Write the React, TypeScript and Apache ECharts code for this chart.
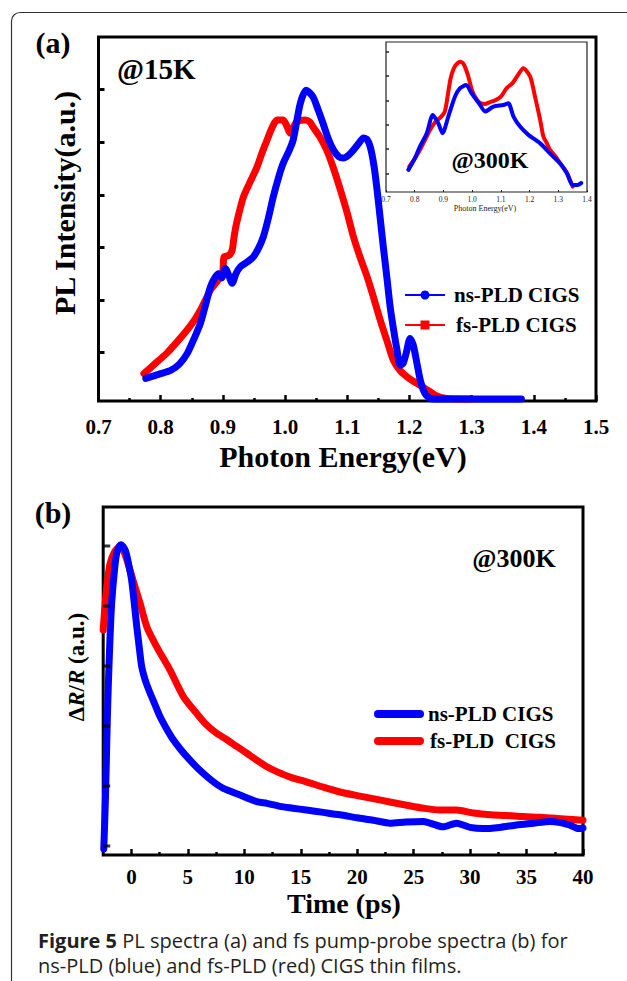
import React, { useEffect, useRef } from "react";
import * as echarts from "echarts";

// ---------- Panel (a): PL spectra at 15 K ----------
const a15_ns_E = [0.776, 0.8, 0.816, 0.83, 0.843, 0.855, 0.864, 0.872, 0.88, 0.887, 0.893, 0.898, 0.904, 0.91, 0.915, 0.921, 0.928, 0.94, 0.949, 0.958, 0.965, 0.973, 0.981, 0.99, 0.997, 1.005, 1.013, 1.0245, 1.034, 1.045, 1.053, 1.061, 1.07, 1.078, 1.087, 1.094, 1.102, 1.11, 1.118, 1.126, 1.132, 1.137, 1.143, 1.148, 1.153, 1.158, 1.164, 1.169, 1.175, 1.18, 1.185, 1.19, 1.195, 1.201, 1.206, 1.212, 1.218, 1.225, 1.232, 1.24, 1.3, 1.38];
const a15_ns_I = [0.51, 0.6, 0.66, 0.78, 0.99, 1.3, 1.56, 1.9, 2.25, 2.42, 2.5, 2.42, 2.6, 2.45, 2.32, 2.5, 2.63, 2.73, 2.82, 3.0, 3.2, 3.55, 3.96, 4.35, 4.6, 4.8, 5.04, 5.74, 5.99, 5.86, 5.62, 5.36, 5.05, 4.85, 4.72, 4.7, 4.75, 4.85, 4.97, 5.08, 5.05, 4.91, 4.55, 4.09, 3.55, 3.01, 2.4, 1.87, 1.4, 1.05, 0.76, 0.8, 1.0, 1.27, 1.15, 0.8, 0.45, 0.22, 0.14, 0.12, 0.12, 0.12];
const a15_fs_E = [0.773, 0.79, 0.81, 0.826, 0.8425, 0.855, 0.864, 0.872, 0.88, 0.889, 0.896, 0.9, 0.902, 0.91, 0.915, 0.918, 0.922, 0.933, 0.944, 0.955, 0.963, 0.971, 0.98, 0.987, 0.997, 1.003, 1.008, 1.013, 1.019, 1.0325, 1.04, 1.045, 1.056, 1.067, 1.078, 1.089, 1.1, 1.11, 1.121, 1.132, 1.143, 1.153, 1.164, 1.174, 1.185, 1.196, 1.207, 1.217, 1.23, 1.245, 1.26, 1.3];
const a15_fs_I = [0.6, 0.78, 0.99, 1.2, 1.43, 1.63, 1.81, 2.0, 2.19, 2.33, 2.44, 2.55, 2.82, 2.85, 2.95, 3.2, 3.46, 3.96, 4.25, 4.53, 4.8, 5.04, 5.3, 5.42, 5.42, 5.3, 5.17, 5.28, 5.39, 5.42, 5.38, 5.29, 5.1, 4.85, 4.5, 4.09, 3.65, 3.2, 2.8, 2.44, 2.02, 1.62, 1.22, 0.86, 0.66, 0.54, 0.45, 0.38, 0.28, 0.17, 0.13, 0.12];

// ---------- Inset: PL spectra at 300 K ----------
const a300_ns_E = [0.778, 0.8, 0.818, 0.842, 0.863, 0.882, 0.897, 0.917, 0.94, 0.958, 0.979, 0.998, 1.028, 1.045, 1.074, 1.109, 1.126, 1.144, 1.167, 1.196, 1.237, 1.271, 1.306, 1.33, 1.35, 1.367, 1.38];
const a300_ns_I = [1.14, 1.6, 2.1, 2.65, 3.4, 3.06, 2.65, 3.33, 4.15, 4.5, 4.63, 4.29, 3.81, 3.54, 3.74, 3.81, 3.88, 3.33, 2.92, 2.58, 2.23, 1.82, 1.41, 1.0, 0.52, 0.52, 0.6];
const a300_fs_E = [0.781, 0.8, 0.818, 0.835, 0.853, 0.871, 0.89, 0.905, 0.915, 0.925, 0.94, 0.958, 0.97, 0.985, 1.0, 1.015, 1.028, 1.045, 1.06, 1.08, 1.1, 1.12, 1.14, 1.16, 1.178, 1.202, 1.219, 1.237, 1.248, 1.26, 1.271, 1.29, 1.306, 1.33, 1.35];
const a300_fs_I = [1.27, 1.6, 1.96, 2.35, 2.78, 3.1, 3.3, 3.55, 4.2, 4.9, 5.4, 5.59, 5.5, 5.05, 4.4, 4.05, 3.89, 3.85, 3.92, 4.0, 4.15, 4.5, 4.7, 5.05, 5.32, 4.98, 4.15, 3.19, 2.51, 2.24, 1.96, 1.7, 1.42, 1.01, 0.45];

// ---------- Panel (b): pump-probe ----------
const b_ns_t = [-2.45, -2.3, -2.15, -2.05, -1.9, -1.75, -1.5, -1.3, -0.95, -0.6, -0.42, -0.2, 0.02, 0.25, 0.47, 0.7, 0.91, 1.25, 1.65, 2.1, 2.53, 3.1, 3.71, 4.4, 5.19, 5.9, 6.67, 7.4, 8.14, 9.62, 11.1, 12.0, 13.16, 14.3, 15.5, 17.0, 18.47, 20.0, 21.42, 22.9, 24.3, 25.85, 27.6, 28.8, 30.0, 31.17, 32.6, 34.1, 35.6, 37.07, 38.0, 38.8, 39.6, 40];
const b_ns_R = [-0.05, 0.8, 2.0, 2.66, 3.45, 4.05, 4.6, 4.88, 5.02, 4.95, 4.85, 4.65, 4.43, 4.05, 3.66, 3.3, 2.99, 2.75, 2.55, 2.35, 2.16, 1.96, 1.77, 1.6, 1.43, 1.29, 1.16, 1.05, 0.96, 0.85, 0.74, 0.71, 0.66, 0.63, 0.6, 0.56, 0.52, 0.47, 0.43, 0.38, 0.4, 0.41, 0.32, 0.38, 0.31, 0.29, 0.31, 0.35, 0.38, 0.41, 0.39, 0.35, 0.29, 0.3];
const b_fs_t = [-2.5, -2.3, -2.1, -1.9, -1.5, -0.95, -0.55, -0.13, 0.3, 0.76, 1.35, 2.24, 3.42, 4.6, 5.78, 6.6, 7.55, 8.4, 9.33, 10.2, 11.1, 12.0, 12.87, 14.2, 15.5, 17.0, 18.47, 20.0, 21.4, 23.0, 24.4, 25.9, 27.3, 28.8, 30.3, 31.8, 33.2, 34.7, 36.2, 37.7, 39.0, 40.0];
const b_fs_R = [3.6, 4.1, 4.45, 4.7, 4.9, 5.0, 4.85, 4.6, 4.33, 4.05, 3.66, 3.32, 2.93, 2.49, 2.21, 2.03, 1.88, 1.78, 1.66, 1.55, 1.43, 1.32, 1.24, 1.14, 1.07, 0.98, 0.9, 0.84, 0.79, 0.73, 0.68, 0.63, 0.6, 0.6, 0.55, 0.52, 0.51, 0.49, 0.48, 0.46, 0.44, 0.43];

// tick values
const aYTicks = [1, 2, 3, 4, 5, 6];
const insetYTicks = [1, 2, 3, 4, 5, 6];
const bYTicks = [0, 1, 2, 3, 4, 5];
const bXMajor = [0, 5, 10, 15, 20, 25, 30, 35, 40];
const bXMinor = [2.5, 7.5, 12.5, 17.5, 22.5, 27.5, 32.5, 37.5];
const bTMin = -2.5;
const bTMax = 40;

const BLUE = "#0000ff";
const RED = "#ff0000";
const SERIF = "'Liberation Serif', 'Times New Roman', serif";
const SANS = "'Open Sans', 'Noto Sans', sans-serif";

const zip = (xs: number[], ys: number[]) => xs.map((x, i) => [x, ys[i]]);

export default function App() {
  const ref = useRef<HTMLDivElement>(null);
  useEffect(() => {
    if (!ref.current) return;
    const chart = echarts.init(ref.current, undefined, { renderer: "svg" });
    const tickLbl = { fontSize: 21, fontWeight: "bold" as const, fontFamily: SERIF, color: "#000" };
    const noLine = { show: false, onZero: false };
    const lineS = (name: string, xi: number, yi: number, data: number[][], color: string, w: number, z: number) => ({
      name,
      type: "line",
      xAxisIndex: xi,
      yAxisIndex: yi,
      data,
      symbol: "none",
      showSymbol: false,
      smooth: 0.25,
      z,
      lineStyle: { color, width: w, cap: "round", join: "round" },
    });
    const txt = (text: string, x: number, y: number, size: number, opts: any = {}) => ({
      type: "text",
      x,
      y,
      rotation: opts.rotation || 0,
      z: 100,
      style: {
        text,
        font: `${opts.weight || "bold"} ${size}px ${opts.family || SERIF}`,
        fill: opts.fill || "#000",
        align: opts.align || "center",
        verticalAlign: "middle",
      },
    });
    const helper = (gridIndex: number) => ({ type: "value", gridIndex, min: 1, max: 2, show: false });
    const B = { left: 103.2, top: 507, width: 479.8, height: 348 };
    const option: any = {
      animation: false,
      backgroundColor: "#fff",
      grid: [
        { left: 98.5, top: 37, width: 497.5, height: 364, show: true, borderWidth: 3, borderColor: "#000", backgroundColor: "transparent", z: 0 },
        { left: 386, top: 42, width: 201, height: 150, show: true, borderWidth: 1.2, borderColor: "#222", backgroundColor: "#fff", z: 5 },
        { ...B, show: true, borderWidth: 3, borderColor: "#000", backgroundColor: "transparent", z: 0 },
        { ...B, show: false },
        { ...B, show: false },
      ],
      xAxis: [
        {
          type: "value", gridIndex: 0, position: "bottom", min: 0.7, max: 1.5, interval: 0.1,
          axisLine: noLine, splitLine: { show: false },
          axisTick: { inside: true, length: 6, lineStyle: { width: 2.5, color: "#000" } },
          minorTick: { show: true, splitNumber: 2, length: 3, lineStyle: { width: 2.5, color: "#000" } },
          axisLabel: { ...tickLbl, margin: 15, formatter: (v: number) => v.toFixed(1) },
        },
        {
          type: "value", gridIndex: 1, position: "bottom", min: 0.7, max: 1.4, interval: 0.1, z: 6,
          axisLine: noLine, splitLine: { show: false },
          axisTick: { inside: true, length: 2, lineStyle: { width: 1, color: "#222" } },
          axisLabel: { fontSize: 7.5, fontFamily: SERIF, color: "#222", margin: 3, formatter: (v: number) => v.toFixed(1) },
        },
        // panel (b) data axis (hidden)
        { type: "value", gridIndex: 2, min: bTMin, max: bTMax, show: false },
        // panel (b) major ticks + labels
        {
          type: "value", gridIndex: 3, position: "bottom", min: bTMin, max: bTMax,
          axisLine: noLine, splitLine: { show: false },
          axisTick: { inside: true, length: 6, customValues: bXMajor, lineStyle: { width: 2.5, color: "#000" } },
          axisLabel: { ...tickLbl, margin: 11, customValues: bXMajor },
        },
        // panel (b) minor ticks
        {
          type: "value", gridIndex: 4, position: "bottom", min: bTMin, max: bTMax,
          axisLine: noLine, splitLine: { show: false },
          axisTick: { inside: true, length: 3, customValues: bXMinor, lineStyle: { width: 2.5, color: "#000" } },
          axisLabel: { show: false },
        },
      ],
      yAxis: [
        {
          type: "value", gridIndex: 0, position: "left", min: 0.08, max: 7,
          axisLine: noLine, splitLine: { show: false },
          axisTick: { inside: true, length: 6, customValues: aYTicks, lineStyle: { width: 3, color: "#000" } },
          axisLabel: { show: false, customValues: aYTicks },
        },
        {
          type: "value", gridIndex: 1, position: "left", min: 0.23, max: 6.4, z: 6,
          axisLine: noLine, splitLine: { show: false },
          axisTick: { inside: true, length: 3, customValues: insetYTicks, lineStyle: { width: 1.5, color: "#222" } },
          axisLabel: { show: false, customValues: insetYTicks },
        },
        // panel (b) data axis (hidden)
        { type: "value", gridIndex: 2, min: -0.15, max: 5.65, show: false },
        helper(3),
        helper(4),
      ],
      series: [
        lineS("fs-PLD CIGS (15K)", 0, 0, zip(a15_fs_E, a15_fs_I), RED, 7, 2),
        lineS("ns-PLD CIGS (15K)", 0, 0, zip(a15_ns_E, a15_ns_I), BLUE, 7, 3),
        lineS("fs-PLD CIGS (300K)", 1, 1, zip(a300_fs_E, a300_fs_I), RED, 4, 7),
        lineS("ns-PLD CIGS (300K)", 1, 1, zip(a300_ns_E, a300_ns_I), BLUE, 4, 8),
        lineS("fs-PLD CIGS", 2, 2, zip(b_fs_t, b_fs_R), RED, 7, 2),
        lineS("ns-PLD CIGS", 2, 2, zip(b_ns_t, b_ns_R), BLUE, 7, 3),
        // panel (b) left-axis inward ticks, placed through the y scale
        {
          name: "b-y-ticks",
          type: "scatter",
          xAxisIndex: 2,
          yAxisIndex: 2,
          data: bYTicks.map((v) => [bTMin, v]),
          symbol: "rect",
          symbolSize: [7, 3],
          symbolOffset: [3.5, 0],
          itemStyle: { color: "#000" },
          silent: true,
          clip: false,
          z: 10,
        },
      ],
      graphic: [
        // outer figure frame (top + left, rounded corner)
        { type: "line", shape: { x1: 20, y1: 12.5, x2: 627, y2: 12.5 }, style: { stroke: "#333", lineWidth: 1.2 } },
        { type: "line", shape: { x1: 11.5, y1: 21, x2: 11.5, y2: 981 }, style: { stroke: "#333", lineWidth: 1.2 } },
        { type: "arc", shape: { cx: 20, cy: 21, r: 8.5, startAngle: Math.PI, endAngle: Math.PI * 1.5 }, style: { stroke: "#333", lineWidth: 1.2, fill: "none" } },
        // panel labels
        txt("(a)", 53, 42, 30),
        txt("(b)", 53, 512, 30),
        txt("@15K", 117, 69, 29, { align: "left" }),
        txt("@300K", 490, 160, 24),
        txt("@300K", 514, 558, 26),
        // axis titles
        txt("Photon Energy(eV)", 343, 456, 30),
        txt("PL Intensity(a.u.)", 64, 203, 30, { rotation: Math.PI / 2 }),
        txt("Photon Energy(eV)", 485, 208, 8, { weight: "normal", fill: "#222" }),
        txt("Time (ps)", 344, 903, 28),
        {
          type: "text", x: 76, y: 667, rotation: Math.PI / 2, z: 100,
          style: {
            text: "{n|Δ}{i|R}{n|/}{i|R}{n| (a.u.)}",
            align: "center", verticalAlign: "middle",
            rich: {
              n: { font: `bold 23px ${SERIF}`, fill: "#000" },
              i: { font: `italic bold 23px ${SERIF}`, fill: "#000" },
            },
          },
        },
        // legend (a)
        { type: "line", z: 100, shape: { x1: 405, y1: 295, x2: 445, y2: 295 }, style: { stroke: BLUE, lineWidth: 2 } },
        { type: "circle", z: 100, shape: { cx: 425, cy: 295, r: 4.5 }, style: { fill: BLUE } },
        txt("ns-PLD CIGS", 454, 295, 21, { align: "left" }),
        { type: "line", z: 100, shape: { x1: 405, y1: 325, x2: 445, y2: 325 }, style: { stroke: RED, lineWidth: 2 } },
        { type: "rect", z: 100, shape: { x: 420.5, y: 320.5, width: 9, height: 9 }, style: { fill: RED } },
        txt("fs-PLD CIGS", 456, 325, 21, { align: "left" }),
        // legend (b)
        { type: "line", z: 100, shape: { x1: 378, y1: 714, x2: 420, y2: 714 }, style: { stroke: BLUE, lineWidth: 8, lineCap: "round" } },
        txt("ns-PLD CIGS", 428, 714, 21, { align: "left" }),
        { type: "line", z: 100, shape: { x1: 378, y1: 741, x2: 420, y2: 741 }, style: { stroke: RED, lineWidth: 8, lineCap: "round" } },
        txt("fs-PLD  CIGS", 430, 741, 21, { align: "left" }),
        // caption
        {
          type: "text", x: 38, y: 940, z: 100,
          style: {
            text: "{b|Figure 5} PL spectra (a) and fs pump-probe spectra (b) for",
            font: `20px ${SANS}`, fill: "#231f20",
            verticalAlign: "middle",
            rich: { b: { font: `bold 20px ${SANS}`, fill: "#231f20" } },
          },
        },
        txt("ns-PLD (blue) and fs-PLD (red) CIGS thin films.", 38, 965, 20, { align: "left", weight: "normal", family: SANS, fill: "#231f20" }),
      ],
    };
    chart.setOption(option);
    return () => chart.dispose();
  }, []);
  return <div ref={ref} style={{ position: "absolute", left: 0, top: 0, width: 627, height: 981 }} />;
}
